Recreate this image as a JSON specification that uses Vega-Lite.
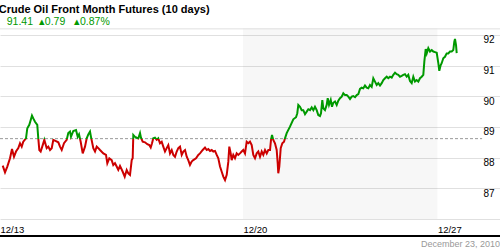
{
"$schema": "https://vega.github.io/schema/vega-lite/v6.json",
"autosize": "none",
"padding": {"top": 28, "left": 0, "right": 0, "bottom": 31},
"width": 500,
"height": 191,
"background": "white",
"config": {
  "view": {"stroke": null},
  "font": "Liberation Sans",
  "axisX": {"domain": false, "ticks": false, "grid": false, "labelAlign": "left", "labelDx": 2, "labelPadding": 5, "labelBaseline": "top", "labelFontSize": 9.5, "labelColor": "#000000", "labelOverlap": false, "labelFlush": false, "labelBound": false, "title": null},
  "axisY": {"grid": true, "gridColor": "#e0e0e0", "gridWidth": 1, "gridOpacity": 1, "domain": false, "ticks": false, "labelAlign": "left", "labelPadding": -17, "labelBaseline": "top", "labelDy": 2, "labelFontSize": 10, "labelColor": "#000000", "labelOverlap": false, "labelFlush": false, "title": null}
},
"title": {"text": "Crude Oil Front Month Futures (10 days)", "subtitle": "\u280091.41\u00a0 \u25b40.79\u00a0\u00a0 \u25b40.87%", "anchor": "start", "fontSize": 11, "fontWeight": "bold", "color": "#000000", "font": "Liberation Sans", "subtitleFont": "Liberation Sans", "subtitleFontSize": 10.5, "subtitleColor": "#009900", "subtitlePadding": 2, "offset": 1},
"data": {"values": [
{"t":0.056,"p":87.74},{"t":0.103,"p":87.52},{"t":0.150,"p":87.71},{"t":0.206,"p":87.98},{"t":0.247,"p":88.28},{"t":0.288,"p":88.03},{"t":0.329,"p":88.20},{"t":0.377,"p":88.31},{"t":0.412,"p":88.47},{"t":0.447,"p":88.36},{"t":0.479,"p":88.52},{"t":0.535,"p":88.63},{"t":0.562,"p":88.96},{"t":0.603,"p":89.07},{"t":0.632,"p":89.23},{"t":0.658,"p":89.37},{"t":0.685,"p":89.28},{"t":0.720,"p":89.17},{"t":0.767,"p":89.07},{"t":0.788,"p":88.63},{"t":0.809,"p":88.25},{"t":0.837,"p":88.20},{"t":0.879,"p":88.41},{"t":0.912,"p":88.58},{"t":0.961,"p":88.31},{"t":0.994,"p":88.36},{"t":1.029,"p":88.25},{"t":1.064,"p":88.31},{"t":1.097,"p":88.58},{"t":1.152,"p":88.54},{"t":1.200,"p":88.50},{"t":1.235,"p":88.36},{"t":1.270,"p":88.25},{"t":1.317,"p":88.47},{"t":1.372,"p":88.58},{"t":1.405,"p":88.80},{"t":1.440,"p":88.85},{"t":1.461,"p":88.68},{"t":1.508,"p":88.87},{"t":1.564,"p":88.90},{"t":1.599,"p":88.68},{"t":1.626,"p":88.76},{"t":1.660,"p":88.52},{"t":1.702,"p":88.14},{"t":1.749,"p":88.36},{"t":1.784,"p":88.63},{"t":1.817,"p":88.76},{"t":1.852,"p":88.85},{"t":1.872,"p":88.68},{"t":1.920,"p":88.31},{"t":1.955,"p":88.20},{"t":1.990,"p":88.36},{"t":2.023,"p":88.31},{"t":2.058,"p":88.25},{"t":2.126,"p":88.14},{"t":2.181,"p":88.09},{"t":2.208,"p":87.82},{"t":2.249,"p":87.98},{"t":2.298,"p":87.92},{"t":2.331,"p":87.76},{"t":2.366,"p":87.82},{"t":2.401,"p":87.71},{"t":2.434,"p":87.60},{"t":2.469,"p":87.73},{"t":2.525,"p":87.54},{"t":2.566,"p":87.38},{"t":2.607,"p":87.60},{"t":2.640,"p":87.49},{"t":2.675,"p":87.44},{"t":2.710,"p":87.92},{"t":2.730,"p":87.98},{"t":2.743,"p":88.74},{"t":2.778,"p":88.68},{"t":2.813,"p":88.65},{"t":2.846,"p":88.63},{"t":2.881,"p":88.80},{"t":2.901,"p":88.65},{"t":2.936,"p":88.52},{"t":2.984,"p":88.50},{"t":3.031,"p":88.44},{"t":3.072,"p":88.41},{"t":3.101,"p":88.33},{"t":3.128,"p":88.47},{"t":3.154,"p":88.63},{"t":3.189,"p":88.65},{"t":3.224,"p":88.58},{"t":3.257,"p":88.63},{"t":3.292,"p":88.47},{"t":3.327,"p":88.52},{"t":3.360,"p":88.36},{"t":3.395,"p":88.20},{"t":3.430,"p":88.31},{"t":3.463,"p":88.41},{"t":3.498,"p":88.14},{"t":3.533,"p":88.25},{"t":3.566,"p":88.09},{"t":3.601,"p":88.03},{"t":3.636,"p":88.20},{"t":3.669,"p":88.31},{"t":3.704,"p":88.36},{"t":3.739,"p":88.09},{"t":3.772,"p":88.20},{"t":3.807,"p":88.25},{"t":3.842,"p":88.03},{"t":3.874,"p":87.92},{"t":3.909,"p":87.76},{"t":3.944,"p":87.87},{"t":3.977,"p":87.92},{"t":4.033,"p":87.98},{"t":4.080,"p":88.09},{"t":4.115,"p":88.14},{"t":4.171,"p":88.25},{"t":4.218,"p":88.33},{"t":4.253,"p":88.25},{"t":4.286,"p":88.28},{"t":4.321,"p":88.22},{"t":4.356,"p":88.25},{"t":4.389,"p":88.20},{"t":4.424,"p":88.22},{"t":4.459,"p":88.09},{"t":4.492,"p":87.98},{"t":4.527,"p":87.71},{"t":4.562,"p":87.54},{"t":4.595,"p":87.38},{"t":4.630,"p":87.27},{"t":4.665,"p":87.44},{"t":4.698,"p":87.87},{"t":4.718,"p":88.36},{"t":4.747,"p":88.14},{"t":4.767,"p":87.92},{"t":4.800,"p":88.09},{"t":4.835,"p":87.98},{"t":4.870,"p":88.14},{"t":4.903,"p":88.09},{"t":4.938,"p":88.14},{"t":4.973,"p":88.20},{"t":5.006,"p":88.25},{"t":5.041,"p":88.14},{"t":5.076,"p":88.52},{"t":5.109,"p":88.47},{"t":5.144,"p":88.52},{"t":5.179,"p":88.41},{"t":5.212,"p":88.09},{"t":5.247,"p":87.98},{"t":5.282,"p":88.14},{"t":5.315,"p":88.20},{"t":5.350,"p":88.03},{"t":5.385,"p":88.20},{"t":5.418,"p":88.09},{"t":5.453,"p":88.25},{"t":5.488,"p":88.14},{"t":5.521,"p":88.25},{"t":5.556,"p":88.25},{"t":5.576,"p":88.58},{"t":5.597,"p":88.74},{"t":5.623,"p":88.58},{"t":5.658,"p":88.47},{"t":5.693,"p":88.25},{"t":5.714,"p":87.82},{"t":5.726,"p":87.49},{"t":5.747,"p":87.71},{"t":5.776,"p":88.31},{"t":5.809,"p":88.47},{"t":5.844,"p":88.52},{"t":5.864,"p":88.63},{"t":5.899,"p":88.80},{"t":5.967,"p":89.01},{"t":6.035,"p":89.25},{"t":6.091,"p":89.32},{"t":6.117,"p":89.45},{"t":6.138,"p":89.72},{"t":6.173,"p":89.66},{"t":6.208,"p":89.55},{"t":6.241,"p":89.55},{"t":6.276,"p":89.42},{"t":6.311,"p":89.50},{"t":6.344,"p":89.58},{"t":6.379,"p":89.55},{"t":6.414,"p":89.64},{"t":6.447,"p":89.55},{"t":6.481,"p":89.66},{"t":6.516,"p":89.55},{"t":6.549,"p":89.39},{"t":6.584,"p":89.36},{"t":6.605,"p":89.45},{"t":6.632,"p":89.88},{"t":6.652,"p":89.61},{"t":6.687,"p":89.55},{"t":6.722,"p":89.72},{"t":6.743,"p":89.94},{"t":6.770,"p":89.72},{"t":6.805,"p":89.88},{"t":6.831,"p":89.66},{"t":6.858,"p":89.79},{"t":6.893,"p":89.83},{"t":6.928,"p":89.72},{"t":6.961,"p":89.86},{"t":6.996,"p":89.94},{"t":7.031,"p":89.99},{"t":7.064,"p":90.10},{"t":7.099,"p":90.04},{"t":7.134,"p":90.04},{"t":7.167,"p":89.99},{"t":7.202,"p":89.91},{"t":7.237,"p":89.99},{"t":7.270,"p":90.01},{"t":7.305,"p":89.97},{"t":7.340,"p":90.04},{"t":7.373,"p":90.07},{"t":7.407,"p":90.24},{"t":7.442,"p":90.28},{"t":7.475,"p":90.26},{"t":7.510,"p":90.35},{"t":7.545,"p":90.28},{"t":7.578,"p":90.26},{"t":7.613,"p":90.37},{"t":7.648,"p":90.31},{"t":7.681,"p":90.59},{"t":7.716,"p":90.48},{"t":7.751,"p":90.37},{"t":7.784,"p":90.43},{"t":7.819,"p":90.35},{"t":7.854,"p":90.43},{"t":7.887,"p":90.53},{"t":7.922,"p":90.59},{"t":7.957,"p":90.64},{"t":7.990,"p":90.59},{"t":8.025,"p":90.64},{"t":8.060,"p":90.61},{"t":8.093,"p":90.70},{"t":8.128,"p":90.77},{"t":8.163,"p":90.72},{"t":8.195,"p":90.70},{"t":8.230,"p":90.64},{"t":8.265,"p":90.67},{"t":8.298,"p":90.70},{"t":8.333,"p":90.72},{"t":8.368,"p":90.64},{"t":8.401,"p":90.70},{"t":8.436,"p":90.50},{"t":8.471,"p":90.43},{"t":8.504,"p":90.64},{"t":8.539,"p":90.48},{"t":8.574,"p":90.53},{"t":8.607,"p":90.48},{"t":8.642,"p":90.59},{"t":8.677,"p":90.64},{"t":8.710,"p":90.70},{"t":8.731,"p":91.13},{"t":8.759,"p":91.54},{"t":8.780,"p":91.40},{"t":8.813,"p":91.57},{"t":8.848,"p":91.46},{"t":8.883,"p":91.51},{"t":8.916,"p":91.46},{"t":8.951,"p":91.44},{"t":8.986,"p":91.42},{"t":9.019,"p":91.08},{"t":9.039,"p":90.83},{"t":9.068,"p":91.02},{"t":9.088,"p":91.08},{"t":9.121,"p":91.24},{"t":9.156,"p":91.29},{"t":9.191,"p":91.40},{"t":9.224,"p":91.40},{"t":9.259,"p":91.46},{"t":9.294,"p":91.46},{"t":9.327,"p":91.51},{"t":9.348,"p":91.78},{"t":9.362,"p":91.87},{"t":9.383,"p":91.67},{"t":9.397,"p":91.41}
]},
"layer": [
{"data": {"values": [{}]}, "mark": {"type": "rect", "fill": "#000000", "opacity": 0.03},
 "encoding": {"x": {"datum": 5, "type": "quantitative", "scale": {"domain": [0, 10.288], "nice": false, "zero": false}, "axis": {"values": [0, 5, 9], "labelExpr": "datum.value == 0 ? '12/13' : datum.value == 5 ? '12/20' : '12/27'", "grid": false}}, "x2": {"datum": 9}}},
{"data": {"values": [{}]}, "mark": {"type": "rule", "stroke": "#e0e0e0", "strokeWidth": 1},
 "encoding": {"x": {"datum": 0, "type": "quantitative", "scale": {"domain": [0, 10.288], "nice": false, "zero": false}, "axis": {"values": [0, 5, 9], "labelExpr": "datum.value == 0 ? '12/13' : datum.value == 5 ? '12/20' : '12/27'", "grid": false}}, "x2": {"datum": 10.288},
  "y": {"datum": 92.2, "type": "quantitative", "scale": {"domain": [86, 92.228], "nice": false, "zero": false}, "axis": {"orient": "right", "values": [86, 87, 88, 89, 90, 91, 92], "labelExpr": "datum.value == 86 ? '' : datum.label", "grid": true, "gridColor": "#e0e0e0"}}}},
{"data": {"values": [{}]}, "mark": {"type": "rule", "stroke": "#999999", "strokeWidth": 1, "strokeDash": [3, 2]},
 "encoding": {"x": {"datum": 0, "type": "quantitative", "scale": {"domain": [0, 10.288], "nice": false, "zero": false}, "axis": {"values": [0, 5, 9], "labelExpr": "datum.value == 0 ? '12/13' : datum.value == 5 ? '12/20' : '12/27'", "grid": false}}, "x2": {"datum": 9.92},
  "y": {"datum": 88.62, "type": "quantitative", "scale": {"domain": [86, 92.228], "nice": false, "zero": false}, "axis": {"orient": "right", "values": [86, 87, 88, 89, 90, 91, 92], "labelExpr": "datum.value == 86 ? '' : datum.label", "grid": true, "gridColor": "#e0e0e0"}}}},
{"mark": {"type": "line", "strokeWidth": 2, "interpolate": "linear", "stroke": {"gradient": "linear", "x1": 0, "y1": 0, "x2": 0, "y2": 1, "stops": [{"offset": 0, "color": "#009900"}, {"offset": 0.7065, "color": "#009900"}, {"offset": 0.7065, "color": "#cc0000"}, {"offset": 1, "color": "#cc0000"}]}},
 "encoding": {
  "x": {"field": "t", "type": "quantitative", "scale": {"domain": [0, 10.288], "nice": false, "zero": false}, "axis": {"values": [0, 5, 9], "labelExpr": "datum.value == 0 ? '12/13' : datum.value == 5 ? '12/20' : '12/27'", "grid": false}},
  "y": {"field": "p", "type": "quantitative", "scale": {"domain": [86, 92.228], "nice": false, "zero": false}, "axis": {"orient": "right", "values": [86, 87, 88, 89, 90, 91, 92], "labelExpr": "datum.value == 86 ? '' : datum.label", "grid": true, "gridColor": "#e0e0e0"}}
 }},
{"data": {"values": [{}]}, "mark": {"type": "rule", "stroke": "#000000", "strokeWidth": 2},
 "encoding": {"x": {"datum": 0, "type": "quantitative", "scale": {"domain": [0, 10.288], "nice": false, "zero": false}, "axis": {"values": [0, 5, 9], "labelExpr": "datum.value == 0 ? '12/13' : datum.value == 5 ? '12/20' : '12/27'", "grid": false}}, "x2": {"datum": 10.288},
  "y": {"datum": 85.446, "type": "quantitative", "scale": {"domain": [86, 92.228], "nice": false, "zero": false}, "axis": {"orient": "right", "values": [86, 87, 88, 89, 90, 91, 92], "labelExpr": "datum.value == 86 ? '' : datum.label", "grid": true, "gridColor": "#e0e0e0"}}}},
{"data": {"values": [{"label": "December 23, 2010"}]}, "mark": {"type": "text", "align": "right", "baseline": "middle", "fontSize": 9, "color": "#999999", "font": "Liberation Sans"},
 "encoding": {"x": {"datum": 10.288, "type": "quantitative", "scale": {"domain": [0, 10.288], "nice": false, "zero": false}, "axis": {"values": [0, 5, 9], "labelExpr": "datum.value == 0 ? '12/13' : datum.value == 5 ? '12/20' : '12/27'", "grid": false}},
  "y": {"datum": 85.2, "type": "quantitative", "scale": {"domain": [86, 92.228], "nice": false, "zero": false}, "axis": {"orient": "right", "values": [86, 87, 88, 89, 90, 91, 92], "labelExpr": "datum.value == 86 ? '' : datum.label", "grid": true, "gridColor": "#e0e0e0"}},
  "text": {"field": "label"}}}
]
}
